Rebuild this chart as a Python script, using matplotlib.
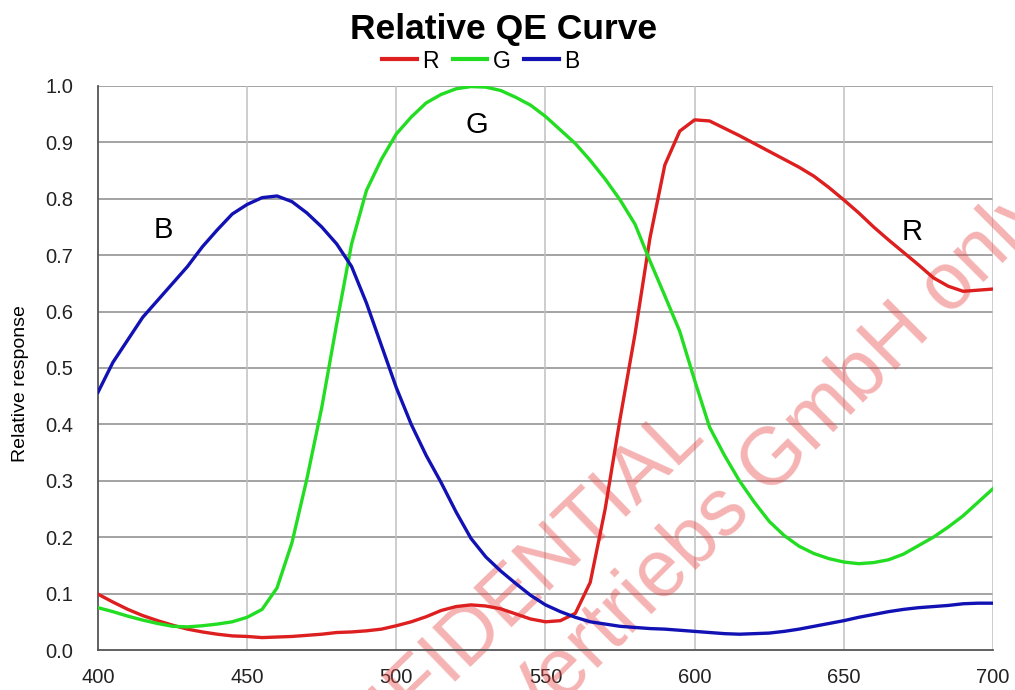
import matplotlib
matplotlib.use("Agg")
import matplotlib.pyplot as plt
import numpy as np

plt.rcParams['font.family'] = ['Liberation Sans', 'DejaVu Sans']

wavelength = [400, 405, 410, 415, 420, 425, 430, 435, 440, 445, 450, 455, 460, 465, 470,
              475, 480, 485, 490, 495, 500, 505, 510, 515, 520, 525, 530, 535, 540, 545,
              550, 555, 560, 565, 570, 575, 580, 585, 590, 595, 600, 605, 610, 615, 620,
              625, 630, 635, 640, 645, 650, 655, 660, 665, 670, 675, 680, 685, 690, 695, 700]

red = [0.099, 0.085, 0.072, 0.061, 0.052, 0.044, 0.037, 0.032, 0.028, 0.025, 0.024, 0.022,
       0.023, 0.024, 0.026, 0.028, 0.031, 0.032, 0.034, 0.037, 0.043, 0.050, 0.059, 0.070,
       0.077, 0.080, 0.078, 0.073, 0.064, 0.055, 0.050, 0.052, 0.065, 0.120, 0.25, 0.41,
       0.56, 0.73, 0.86, 0.920, 0.940, 0.938, 0.925, 0.912, 0.898, 0.884, 0.870, 0.856,
       0.840, 0.820, 0.798, 0.775, 0.750, 0.727, 0.705, 0.683, 0.660, 0.645, 0.636, 0.638, 0.640]

green = [0.075, 0.068, 0.060, 0.053, 0.047, 0.042, 0.041, 0.043, 0.046, 0.050, 0.058, 0.072,
         0.110, 0.190, 0.303, 0.430, 0.578, 0.720, 0.815, 0.870, 0.915, 0.945, 0.970, 0.985,
         0.995, 0.999, 0.998, 0.992, 0.980, 0.966, 0.946, 0.922, 0.898, 0.868, 0.835, 0.798,
         0.755, 0.690, 0.628, 0.565, 0.478, 0.395, 0.345, 0.300, 0.262, 0.228, 0.203, 0.184,
         0.171, 0.162, 0.156, 0.153, 0.155, 0.160, 0.170, 0.185, 0.200, 0.218, 0.238, 0.262, 0.286]

blue = [0.457, 0.510, 0.550, 0.590, 0.620, 0.650, 0.680, 0.715, 0.745, 0.773, 0.790, 0.802,
        0.805, 0.795, 0.775, 0.750, 0.720, 0.680, 0.615, 0.540, 0.465, 0.400, 0.345, 0.297,
        0.245, 0.198, 0.165, 0.140, 0.118, 0.097, 0.080, 0.068, 0.058, 0.050, 0.046, 0.042,
        0.040, 0.038, 0.037, 0.035, 0.033, 0.031, 0.029, 0.028, 0.029, 0.030, 0.033, 0.037,
        0.042, 0.047, 0.052, 0.058, 0.063, 0.068, 0.072, 0.075, 0.077, 0.079, 0.082, 0.083, 0.083]

series_names = ["R", "G", "B"]
series_colors = ["#dd1f1f", "#22dd22", "#1212b4"]
x_ticks = [400, 450, 500, 550, 600, 650, 700]
y_ticks = [0.0, 0.1, 0.2, 0.3, 0.4, 0.5, 0.6, 0.7, 0.8, 0.9, 1.0]

W, H = 1015, 690
fig = plt.figure(figsize=(W / 100, H / 100), dpi=100)
ax = fig.add_axes([98 / W, 1 - 650 / H, 895 / W, 564 / H])

for vals, name, col in zip([red, green, blue], series_names, series_colors):
    ax.plot(wavelength, vals, color=col, lw=2.4, label=name, zorder=3,
            solid_joinstyle='round')

ax.set_xlim(400, 700)
ax.set_ylim(0, 1.0)
ax.set_xticks(x_ticks)
ax.set_yticks(y_ticks)
ax.set_xticklabels([str(t) for t in x_ticks])
ax.set_yticklabels([f"{t:.1f}" for t in y_ticks])
ax.tick_params(axis='both', length=0, labelsize=14.5, colors='#222222')
ax.tick_params(axis='y', pad=18)
ax.tick_params(axis='x', pad=13)

for yt in y_ticks[1:]:
    ax.axhline(yt, color='#8a8a8a', lw=1.1, zorder=1)
for xt in x_ticks[1:]:
    ax.axvline(xt, color='#c0c0c0', lw=1.1, zorder=1)

for s in ['top', 'right']:
    ax.spines[s].set_visible(False)
ax.spines['left'].set_color('#555555')
ax.spines['bottom'].set_color('#555555')
ax.spines['left'].set_linewidth(1.3)
ax.spines['bottom'].set_linewidth(1.3)

ax.set_ylabel("Relative response", fontsize=14)
ax.yaxis.set_label_coords((29 - 98) / 895, 1 - (384 - 86) / 564)

ax.text(422, 0.745, "B", fontsize=21, ha='center', va='center', zorder=4)
ax.text(527, 0.93, "G", fontsize=21, ha='center', va='center', zorder=4)
ax.text(673, 0.742, "R", fontsize=21, ha='center', va='center', zorder=4)

fig.text(504 / W, 1 - 29 / H, "Relative QE Curve", fontsize=25.5, fontweight='bold',
         ha='center', va='center')

handles, labels = ax.get_legend_handles_labels()
leg = fig.legend(handles, labels, loc='center', bbox_to_anchor=(481 / W, 1 - 61 / H), ncol=3,
                 frameon=False, fontsize=16.5, handlelength=1.5, handletextpad=0.25,
                 columnspacing=0.6, borderpad=0)
for ln in leg.get_lines():
    ln.set_linewidth(3.0)

wm_color = '#e84a4a'
ax.text(706 / W, 1 - 436 / H, "CONFIDENTIAL", transform=fig.transFigure,
        fontsize=57, color=wm_color, alpha=0.42, rotation=44, rotation_mode='anchor',
        ha='right', va='baseline', zorder=2, clip_on=False)
ax.text(528 / W, 1 - 738 / H, "Vertriebs GmbH only", transform=fig.transFigure,
        fontsize=58, color=wm_color, alpha=0.42, rotation=45, rotation_mode='anchor',
        ha='left', va='baseline', zorder=2, clip_on=False)

fig.savefig("out.png", dpi=100)
